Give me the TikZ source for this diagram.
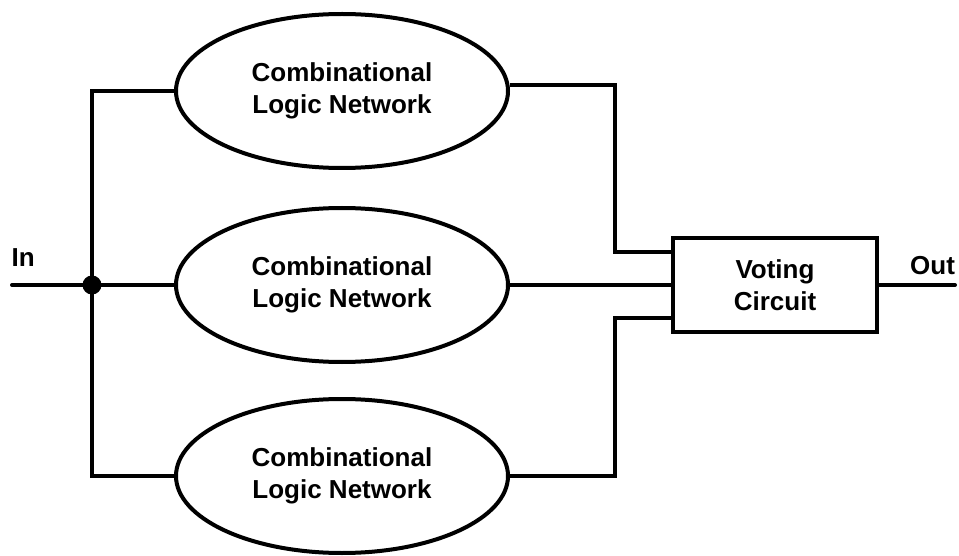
\documentclass[tikz,border=0pt]{standalone}
\usepackage{fontspec}
\setmainfont{Liberation Sans}
\usetikzlibrary{shapes.geometric,calc}
\begin{document}
\begin{tikzpicture}[x=1pt,y=-1pt,
  wire/.style={line width=4pt},
  clnet/.style={ellipse,draw,line width=4pt,inner sep=0pt,minimum width=332pt,minimum height=154pt,
     align=center,font=\fontsize{26}{32}\selectfont\bfseries},
  votebox/.style={rectangle,draw,line width=4pt,inner sep=0pt,minimum width=204pt,minimum height=94pt,
     align=center,font=\fontsize{26}{32}\selectfont\bfseries},
  lbl/.style={inner sep=0pt,font=\fontsize{26}{32}\selectfont\bfseries}]
\useasboundingbox (0,0) rectangle (959,556);
% nodes
\node[clnet] (e1) at (342,91) {Combinational\\Logic Network};
\node[clnet] (e2) at (342,285) {Combinational\\Logic Network};
\node[clnet] (e3) at (342,476) {Combinational\\Logic Network};
\node[votebox] (vc) at (775,285) {Voting\\Circuit};
\coordinate (j) at (92,285);
\coordinate (inend) at (12,285);
\coordinate (outend) at (955,285);
\coordinate (bus) at (615,285);
\coordinate (o1) at ([yshift=6pt]e1.east);
\coordinate (in1) at ([yshift=33pt]vc.west);
\coordinate (in3) at ([yshift=-33pt]vc.west);
\node[lbl,anchor=base west] (inlbl) at (11.5,267) {In};
\node[lbl,anchor=base west] (outlbl) at (910,275) {Out};
% wires
\draw[wire,line cap=round] (inend) -- (j);
\draw[wire] (j) -- (e2.west);
\draw[wire] (e1.west) -| (j) |- (e3.west);
\fill (j) circle (9.5pt);
\draw[wire] (o1) -| (bus |- in1) -- (in1);
\draw[wire] (e2.east) -- (vc.west);
\draw[wire] (e3.east) -| (bus |- in3) -- (in3);
\draw[wire,line cap=round] (vc.east) -- (outend);
\end{tikzpicture}
\end{document}
